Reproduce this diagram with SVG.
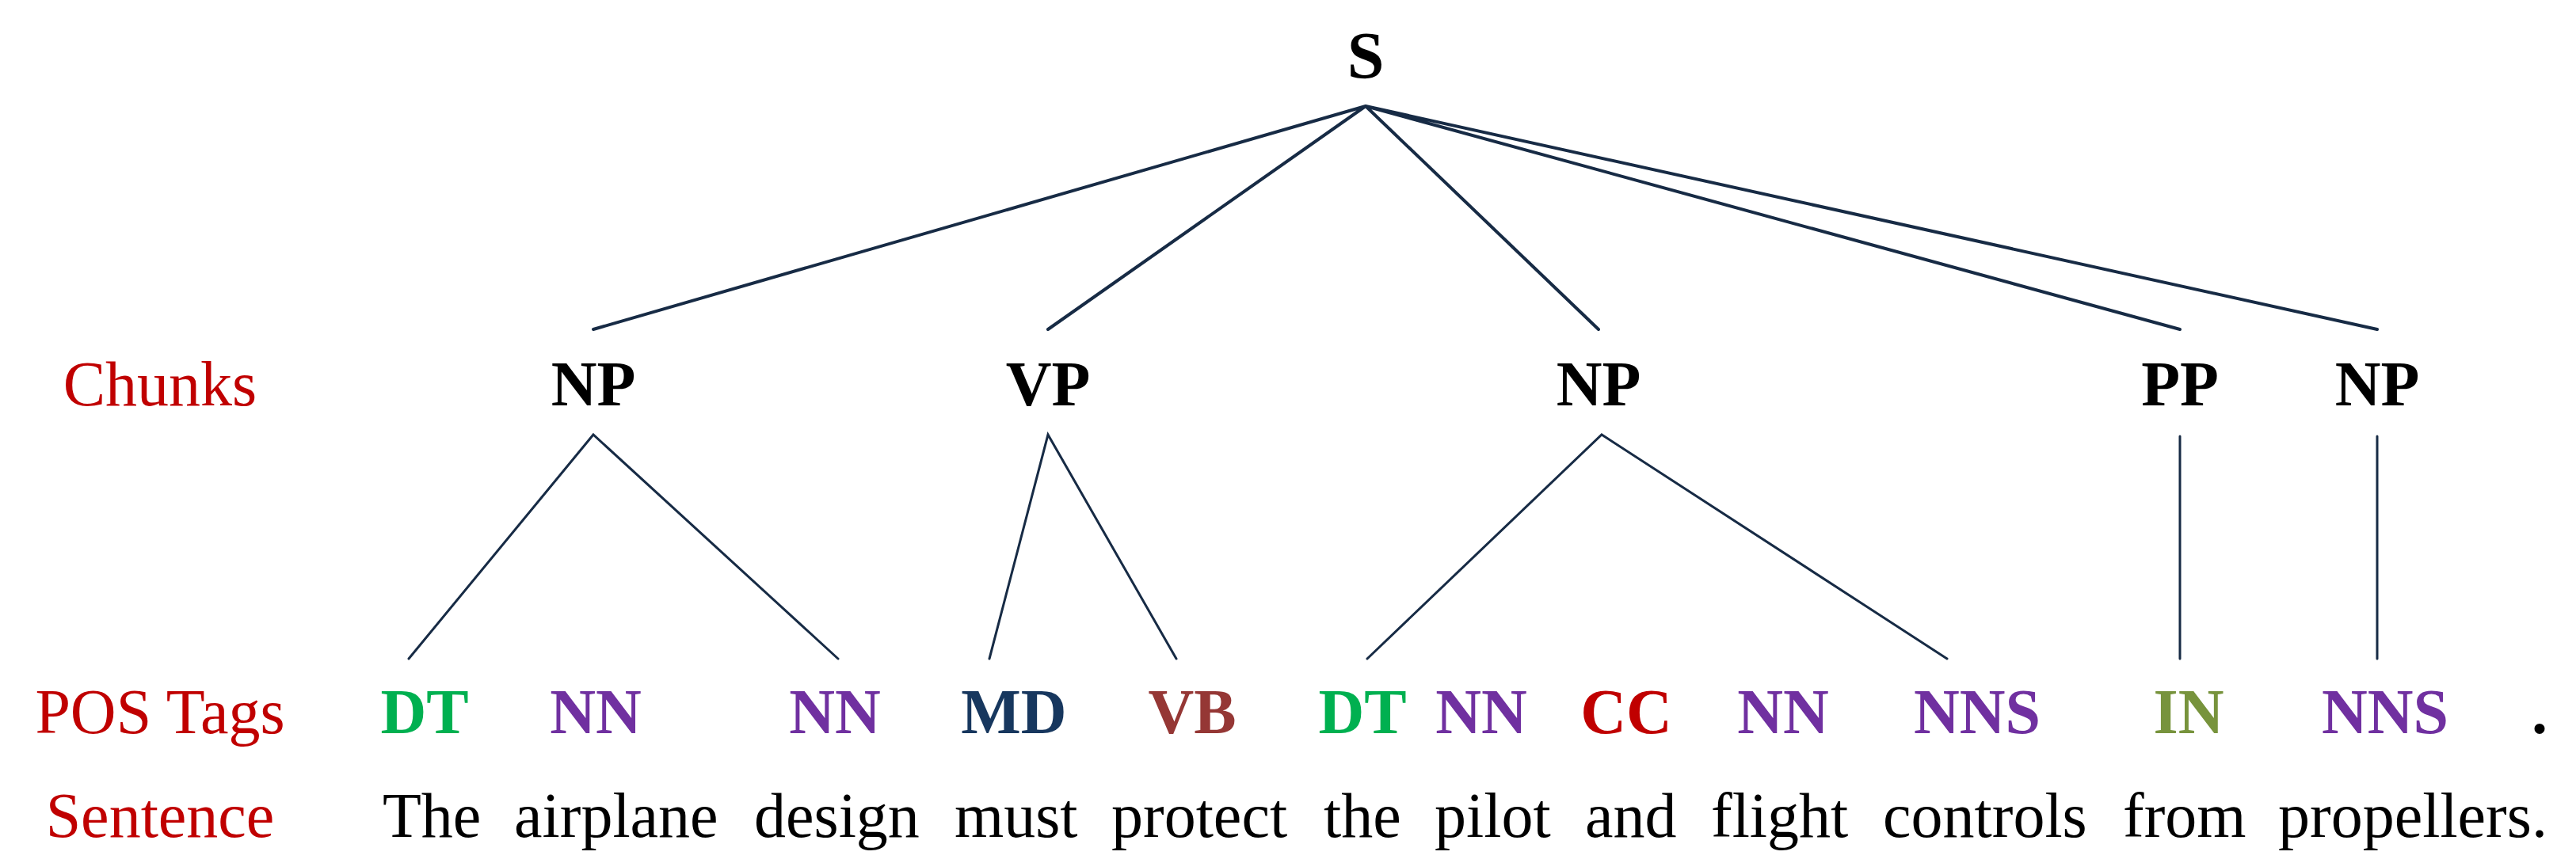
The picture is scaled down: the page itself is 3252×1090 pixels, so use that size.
<svg xmlns="http://www.w3.org/2000/svg" width="3252" height="1090" viewBox="0 0 3252 1090">
<style>
text{font-family:"Liberation Serif","Times New Roman",serif;font-size:80px;}
.b{font-weight:bold;text-anchor:middle;}
.lab{fill:#c00000;text-anchor:middle;}
.up{stroke:#172b45;stroke-width:4;fill:none;stroke-linecap:round;}
.lo{stroke:#172b45;stroke-width:3;fill:none;stroke-linecap:round;}
.DT{fill:#00b050}.NN{fill:#7030a0}.MD{fill:#17375e}.VB{fill:#953735}.CC{fill:#c00000}.IN{fill:#77933c}
</style>
<rect width="3252" height="1090" fill="#ffffff"/>
<g id="row-labels">
<text class="lab" x="202" y="512">Chunks</text>
<text class="lab" x="202" y="926">POS Tags</text>
<text class="lab" x="202" y="1057">Sentence</text>
</g>
<g id="connectors">
<path class="up" d="M1724 134L749 416M1724 134L1323 416M1724 134L2018 416M1724 134L2752 416M1724 134L3001 416"/>
<path class="lo" d="M516 832L749 549L1058 832M1249 832L1323 549L1485 832M1726 832L2022 549L2458 832M2752 551L2752 832M3001 551L3001 832"/>
</g>
<g id="node-S"><text class="b" x="1724" y="99" style="font-size:84px">S</text></g>
<g id="node-NP1"><text class="b" x="749" y="512">NP</text></g>
<g id="node-VP"><text class="b" x="1323" y="512">VP</text></g>
<g id="node-NP2"><text class="b" x="2018" y="512">NP</text></g>
<g id="node-PP"><text class="b" x="2752" y="512">PP</text></g>
<g id="node-NP3"><text class="b" x="3001" y="512">NP</text></g>
<g id="node-DT1"><text class="b DT" x="536" y="926">DT</text></g>
<g id="node-NN1"><text class="b NN" x="752" y="926">NN</text></g>
<g id="node-NN2"><text class="b NN" x="1054" y="926">NN</text></g>
<g id="node-MD"><text class="b MD" x="1280" y="926">MD</text></g>
<g id="node-VB"><text class="b VB" x="1505" y="926">VB</text></g>
<g id="node-DT2"><text class="b DT" x="1720" y="926">DT</text></g>
<g id="node-NN3"><text class="b NN" x="1870" y="926">NN</text></g>
<g id="node-CC"><text class="b CC" x="2053" y="926">CC</text></g>
<g id="node-NN4"><text class="b NN" x="2251" y="926">NN</text></g>
<g id="node-NNS1"><text class="b NN" x="2496" y="926">NNS</text></g>
<g id="node-IN"><text class="b IN" x="2763" y="926">IN</text></g>
<g id="node-NNS2"><text class="b NN" x="3011" y="926">NNS</text></g>
<g id="node-punct"><text class="b" x="3206" y="926">.</text></g>
<g id="sentence">
<text y="1057" fill="#000000"><tspan x="483">The</tspan> <tspan x="649">airplane</tspan> <tspan x="952">design</tspan> <tspan x="1205">must</tspan> <tspan x="1403">protect</tspan> <tspan x="1671">the</tspan> <tspan x="1811">pilot</tspan> <tspan x="2001">and</tspan> <tspan x="2160">flight</tspan> <tspan x="2377">controls</tspan> <tspan x="2680">from</tspan> <tspan x="2876">propellers.</tspan></text>
</g>
</svg>
